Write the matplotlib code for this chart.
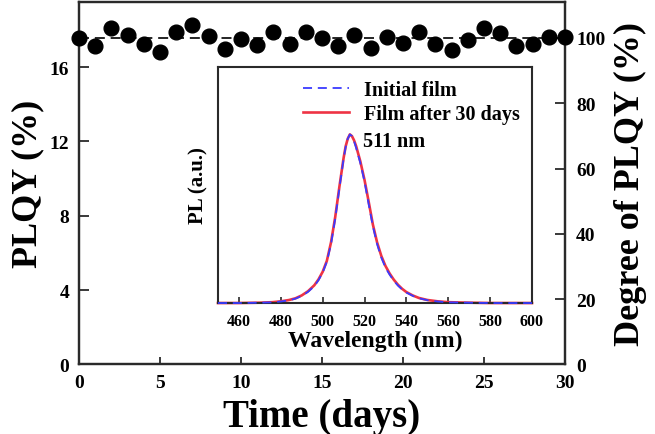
import matplotlib
matplotlib.use("Agg")
import matplotlib.pyplot as plt

# PLQY stability over 30 days (degree of PLQY, % of initial)
days = list(range(31))
degree = [100.0, 97.6, 103.0, 101.0, 98.2, 95.8, 101.9, 104.1, 100.7, 96.6,
          99.7, 97.9, 101.7, 98.2, 101.7, 99.9, 97.6, 100.9, 96.8, 100.4,
          98.4, 101.7, 98.0, 96.4, 99.5, 103.0, 101.5, 97.6, 98.2, 100.2, 100.4]
reference_level = 100

# inset: normalised PL spectra
wavelength = [450, 460, 470, 476, 480, 484, 487, 490, 493, 496, 498, 500, 502, 504,
              506, 508, 510, 511, 512, 513, 514, 515, 516, 518, 520, 522, 524, 526,
              528, 530, 532, 534, 536, 538, 540, 543, 546, 550, 555, 560, 570, 580, 600]
pl_after = [0, 0, 0.002, 0.005, 0.01, 0.018, 0.028, 0.045, 0.07, 0.105, 0.14, 0.185,
            0.25, 0.36, 0.51, 0.69, 0.86, 0.93, 0.975, 1.0, 0.99, 0.965, 0.93, 0.84,
            0.73, 0.60, 0.465, 0.36, 0.28, 0.22, 0.175, 0.138, 0.108, 0.084, 0.065,
            0.045, 0.03, 0.018, 0.01, 0.005, 0.002, 0, 0]
pl_initial = [0, 0, 0.002, 0.004, 0.009, 0.016, 0.026, 0.042, 0.066, 0.1, 0.135,
              0.18, 0.245, 0.35, 0.5, 0.68, 0.855, 0.925, 0.975, 1.0, 0.99, 0.96,
              0.92, 0.83, 0.72, 0.585, 0.455, 0.35, 0.27, 0.21, 0.168, 0.132, 0.103,
              0.08, 0.062, 0.043, 0.028, 0.017, 0.009, 0.004, 0.002, 0, 0]
peak_label = "511 nm"

plt.rcParams["font.family"] = "serif"
plt.rcParams["font.serif"] = ["Liberation Serif", "DejaVu Serif"]
plt.rcParams["font.weight"] = "bold"
plt.rcParams["axes.labelweight"] = "bold"

spine_col = "#2a2a2a"

fig = plt.figure(figsize=(6.55, 4.35), dpi=100)
ax = fig.add_axes([0.1206, 0.1598, 0.742, 0.8333])
ax2 = ax.twinx()

ax.set_xlim(0, 30)
ax.set_ylim(0, 19.5)
ax2.set_ylim(0, 111.0)

ax2.plot([0, 30], [reference_level, reference_level], color="black", lw=1.2,
         linestyle=(0, (6, 3.5)), zorder=2)
ax2.plot(days, degree, "o", color="black", markersize=10.6, clip_on=False, zorder=3)

ax.set_xticks(range(0, 31, 5))
ax.set_yticks([0, 4, 8, 12, 16])
ax2.set_yticks(range(0, 101, 20))
ax.tick_params(axis="x", direction="in", length=5, width=1.3, pad=7, labelsize=14, color=spine_col)
ax.tick_params(axis="y", direction="in", length=7, width=1.3, pad=7, labelsize=14, color=spine_col)
ax2.tick_params(axis="y", direction="in", length=7, width=1.3, pad=8, labelsize=14, color=spine_col)
for a in (ax, ax2):
    for s in a.spines.values():
        s.set_linewidth(1.6)
        s.set_color(spine_col)

ax.set_xlabel("Time (days)", fontsize=28, labelpad=5)
ax.set_ylabel("PLQY (%)", fontsize=26, labelpad=4)
ax2.set_ylabel("Degree of PLQY (%)", fontsize=26, labelpad=6)

# inset
ins = fig.add_axes([0.3328, 0.3011, 0.4794, 0.5426])
ins.set_facecolor("white")
ins.plot(wavelength, pl_after, color="#ee3344", lw=1.9, clip_on=False,
         label="Film after 30 days", zorder=2)
ins.plot(wavelength, pl_initial, color="#3a3aff", lw=1.3, linestyle=(0, (5, 3.2)),
         clip_on=False, label="Initial film", zorder=3)
ins.set_xlim(450, 600)
ins.set_ylim(0, 1.40)
ins.set_xticks(range(460, 601, 20))
ins.set_yticks([])
ins.tick_params(axis="x", direction="in", length=4, width=1.2, pad=7, labelsize=11.5, color=spine_col)
for s in ins.spines.values():
    s.set_linewidth(1.5)
    s.set_color(spine_col)
ins.set_xlabel("Wavelength (nm)", fontsize=17, labelpad=1)
ins.set_ylabel("PL (a.u.)", fontsize=15, labelpad=7)
ins.text(519.5, 0.96, peak_label, fontsize=14.5, fontweight="bold", ha="left", va="center")

handles, labels = ins.get_legend_handles_labels()
ins.legend(handles[::-1], labels[::-1], loc="upper left", bbox_to_anchor=(0.27, 0.945),
           frameon=False, fontsize=14.5, handlelength=2.3, handletextpad=0.75,
           labelspacing=0.2, borderpad=0, borderaxespad=0)

fig.savefig("out.png", dpi=100)
